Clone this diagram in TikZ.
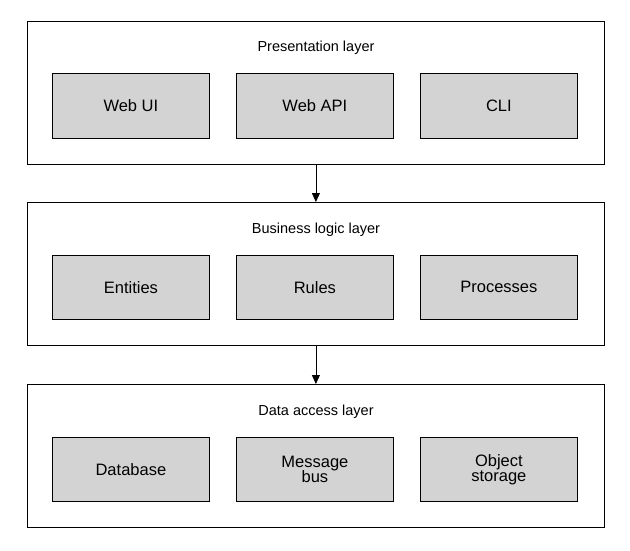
\documentclass[tikz,border=0pt]{standalone}
\usepackage{fontspec}
\setmainfont{Liberation Sans}
\usetikzlibrary{arrows.meta}
\definecolor{boxgray}{RGB}{211,211,211}
\begin{document}
\begin{tikzpicture}[x=1pt,y=-1pt,
  layer/.style={draw=black,line width=0.8pt,fill=white,minimum width=577pt,minimum height=143pt,anchor=north west,inner sep=0pt},
  comp/.style={draw=black,line width=0.8pt,fill=boxgray,minimum width=157pt,minimum height=65pt,anchor=north west,inner sep=0pt,align=center,font=\fontsize{16.5}{18}\selectfont},
  title/.style={font=\fontsize{14.5}{16}\selectfont,anchor=center},
  arr/.style={-{Triangle[length=9pt,width=8pt]},line width=0.8pt}]
\path[use as bounding box] (0,0) rectangle (630,551);
\node[layer] (L1) at (27,21) {};
\node[layer] (L2) at (27,202) {};
\node[layer,minimum height=143pt] (L3) at (27,384) {};
\node[title] (t1) at (316,48) {Presentation layer};
\node[title] (t2) at (316,230) {Business logic layer};
\node[title] (t3) at (316,412) {Data access layer};
\node[comp] (a1) at (52,73) {Web UI};
\node[comp] (a2) at (236,73) {Web API};
\node[comp] (a3) at (420,73) {CLI};
\node[comp,minimum height=64pt] (b1) at (52,255) {Entities};
\node[comp,minimum height=64pt] (b2) at (236,255) {Rules};
\node[comp,minimum height=64pt] (b3) at (420,255) {Processes};
\node[comp,minimum height=64pt] (c1) at (52,437) {Database};
\node[comp,minimum height=64pt] (c2) at (236,437) {Message\\[-3pt]bus};
\node[comp,minimum height=64pt] (c3) at (420,437) {Object\\[-3pt]storage};
\draw[arr] (L1.south) -- (L2.north);
\draw[arr] (L2.south) -- (L3.north);
\end{tikzpicture}
\end{document}
